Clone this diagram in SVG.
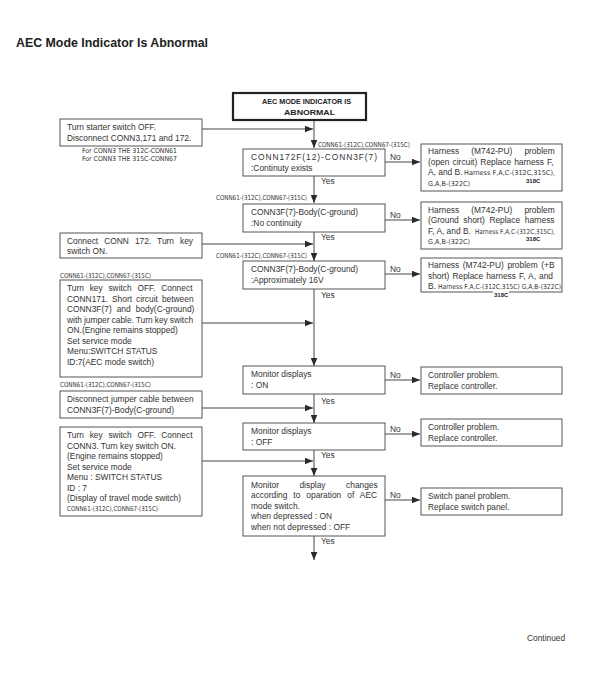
<svg xmlns="http://www.w3.org/2000/svg" width="591" height="675" viewBox="0 0 591 675">
<defs>
<marker id="ah" markerWidth="9" markerHeight="7" refX="8.5" refY="3.5" orient="auto" markerUnits="userSpaceOnUse">
<path d="M0,0 L8.5,3.5 L0,7 Z" fill="#2a2a2a"/>
</marker>
<style>
.bx{fill:#fff;stroke:#555;stroke-width:1}
.tb{fill:#fff;stroke:#222;stroke-width:2.2}
.t{font-family:"Liberation Sans",Arial,sans-serif;font-size:8.4px;fill:#333}
.tt{font-family:"Liberation Sans",Arial,sans-serif;font-size:7.8px;font-weight:bold;fill:#222}
.n{font-family:"Liberation Sans Narrow","DejaVu Sans Condensed","Liberation Sans",sans-serif;font-size:6.8px;fill:#333}
.b{font-family:"Liberation Sans",Arial,sans-serif;font-size:6px;font-weight:bold;fill:#222}
.c{fill:none;stroke:#444;stroke-width:1}
</style>
</defs>
<rect width="591" height="675" fill="#fff"/>
<text x="16" y="47" font-family="Liberation Sans,Arial,sans-serif" font-size="12" font-weight="bold" fill="#222" textLength="192" lengthAdjust="spacingAndGlyphs">AEC Mode Indicator Is Abnormal</text>

<g id="connectors">
<line class="c" x1="314" y1="121" x2="314" y2="148" marker-end="url(#ah)"/>
<line class="c" x1="314" y1="176" x2="314" y2="203" marker-end="url(#ah)"/>
<line class="c" x1="314" y1="232" x2="314" y2="261" marker-end="url(#ah)"/>
<line class="c" x1="314" y1="289" x2="314" y2="366" marker-end="url(#ah)"/>
<line class="c" x1="314" y1="394" x2="314" y2="423" marker-end="url(#ah)"/>
<line class="c" x1="314" y1="450" x2="314" y2="476" marker-end="url(#ah)"/>
<line class="c" x1="314" y1="536" x2="314" y2="560" marker-end="url(#ah)"/>
<line class="c" x1="202" y1="129" x2="313" y2="129" marker-end="url(#ah)"/>
<line class="c" x1="202" y1="244" x2="313" y2="244" marker-end="url(#ah)"/>
<line class="c" x1="202" y1="323" x2="313" y2="323" marker-end="url(#ah)"/>
<line class="c" x1="202" y1="408" x2="313" y2="408" marker-end="url(#ah)"/>
<line class="c" x1="202" y1="461" x2="313" y2="461" marker-end="url(#ah)"/>
<line class="c" x1="385" y1="162" x2="420" y2="162" marker-end="url(#ah)"/>
<line class="c" x1="385" y1="220" x2="420" y2="220" marker-end="url(#ah)"/>
<line class="c" x1="385" y1="274" x2="420" y2="274" marker-end="url(#ah)"/>
<line class="c" x1="385" y1="380" x2="420" y2="380" marker-end="url(#ah)"/>
<line class="c" x1="385" y1="434" x2="420" y2="434" marker-end="url(#ah)"/>
<line class="c" x1="385" y1="500" x2="420" y2="500" marker-end="url(#ah)"/>
<text class="n" x="318" y="147" textLength="92" lengthAdjust="spacingAndGlyphs">CONN61-(312C),CONN67-(315C)</text>
<text class="n" x="216" y="200" textLength="91" lengthAdjust="spacingAndGlyphs">CONN61-(312C),CONN67-(315C)</text>
<text class="n" x="216" y="258" textLength="91" lengthAdjust="spacingAndGlyphs">CONN61-(312C),CONN67-(315C)</text>
<text class="t" x="390" y="160">No</text>
<text class="t" x="390" y="218">No</text>
<text class="t" x="390" y="272">No</text>
<text class="t" x="390" y="378">No</text>
<text class="t" x="390" y="432">No</text>
<text class="t" x="390" y="498">No</text>
<text class="t" x="321" y="184">Yes</text>
<text class="t" x="321" y="240">Yes</text>
<text class="t" x="321" y="298">Yes</text>
<text class="t" x="321" y="404">Yes</text>
<text class="t" x="321" y="458">Yes</text>
<text class="t" x="321" y="544">Yes</text>
</g>

<g id="start">
<rect class="tb" x="233" y="93" width="133" height="27"/>
<text class="tt" x="262" y="104" textLength="89" lengthAdjust="spacingAndGlyphs">AEC MODE INDICATOR  IS</text>
<text class="tt" x="284" y="115" textLength="51" lengthAdjust="spacingAndGlyphs">ABNORMAL</text>
</g>

<g id="step1">
<rect class="bx" x="60" y="119" width="142" height="27"/>
<text class="t" x="67" y="130">Turn starter switch OFF.</text>
<text class="t" x="67" y="141">Disconnect CONN3,171 and 172.</text>
<text class="n" x="82" y="153" textLength="95" lengthAdjust="spacingAndGlyphs">For CONN3 THE 312C-CONN61</text>
<text class="n" x="82" y="161" textLength="95" lengthAdjust="spacingAndGlyphs">For CONN3 THE 315C-CONN67</text>
</g>

<g id="checkA">
<rect class="bx" x="243" y="149" width="142" height="27"/>
<text class="t" x="251" y="160" font-size="8.6" textLength="126" lengthAdjust="spacing">CONN172F(12)-CONN3F(7)</text>
<text class="t" x="251" y="171">:Continuty exists</text>
</g>

<g id="resA">
<rect class="bx" x="421" y="144" width="141" height="47"/>
<text class="t" x="428" y="154" word-spacing="9.8">Harness (M742-PU) problem</text>
<text class="t" x="428" y="164.5" word-spacing="0.8">(open circuit) Replace harness F,</text>
<text class="t" x="428" y="175">A, and B.</text>
<text class="n" x="464" y="175" textLength="91" lengthAdjust="spacingAndGlyphs">Harness F,A,C-(312C,315C),</text>
<text class="n" x="428" y="185.5" textLength="42" lengthAdjust="spacingAndGlyphs">G,A,B-(322C)</text>
<text class="b" x="526" y="183">318C</text>
</g>

<g id="checkB">
<rect class="bx" x="243" y="204" width="142" height="28"/>
<text class="t" x="251" y="215">CONN3F(7)-Body(C-ground)</text>
<text class="t" x="251" y="225.5">:No continuity</text>
</g>

<g id="resB">
<rect class="bx" x="421" y="202" width="141" height="47"/>
<text class="t" x="428" y="212.5" word-spacing="9.8">Harness (M742-PU) problem</text>
<text class="t" x="428" y="223" word-spacing="2.3">(Ground short) Replace harness</text>
<text class="t" x="428" y="233.5">F, A, and B.</text>
<text class="n" x="475" y="233.5" textLength="80" lengthAdjust="spacingAndGlyphs">Harness F,A,C-(312C,315C),</text>
<text class="n" x="428" y="244" textLength="42" lengthAdjust="spacingAndGlyphs">G,A,B-(322C)</text>
<text class="b" x="526" y="241">318C</text>
</g>

<g id="step2">
<rect class="bx" x="60" y="233" width="142" height="25"/>
<text class="t" x="67" y="243.5" word-spacing="3.7">Connect CONN 172. Turn key</text>
<text class="t" x="67" y="254">switch ON.</text>
</g>

<g id="checkC">
<rect class="bx" x="243" y="261" width="142" height="28"/>
<text class="t" x="251" y="272">CONN3F(7)-Body(C-ground)</text>
<text class="t" x="251" y="282.5">:Approximately 16V</text>
</g>

<g id="resC">
<rect class="bx" x="421" y="258" width="141" height="34"/>
<text class="t" x="428" y="268" word-spacing="1.3">Harness (M742-PU) problem (+B</text>
<text class="t" x="428" y="278.5" word-spacing="0.7">short) Replace harness F, A, and</text>
<text class="t" x="428" y="289">B.</text>
<text class="n" x="438" y="289" textLength="123" lengthAdjust="spacingAndGlyphs">Harness F,A,C-(312C,315C) G,A,B-(322C)</text>
<rect x="493" y="291" width="16" height="6" fill="#fff"/>
<text class="b" x="494" y="296.5">318C</text>
</g>

<g id="step3">
<text class="n" x="60" y="278" textLength="91" lengthAdjust="spacingAndGlyphs">CONN61-(312C),CONN67-(315C)</text>
<rect class="bx" x="60" y="280" width="142" height="97"/>
<text class="t" x="67" y="291" word-spacing="3.4">Turn key switch OFF. Connect</text>
<text class="t" x="67" y="301.5" word-spacing="1.7">CONN171. Short circuit between</text>
<text class="t" x="67" y="312" word-spacing="2.7">CONN3F(7) and body(C-ground)</text>
<text class="t" x="67" y="322.5" word-spacing="-0.3">with jumper cable. Turn key switch</text>
<text class="t" x="67" y="333">ON.(Engine remains  stopped)</text>
<text class="t" x="67" y="343.5">Set service mode</text>
<text class="t" x="67" y="354">Menu:SWITCH STATUS</text>
<text class="t" x="67" y="364.5">ID:7(AEC mode switch)</text>
</g>

<g id="checkD">
<rect class="bx" x="243" y="366" width="142" height="28"/>
<text class="t" x="251" y="377">Monitor displays</text>
<text class="t" x="251" y="387.5">: ON</text>
</g>

<g id="resD">
<rect class="bx" x="421" y="367" width="141" height="27"/>
<text class="t" x="428" y="378">Controller problem.</text>
<text class="t" x="428" y="388.5">Replace controller.</text>
</g>

<g id="step4">
<text class="n" x="60" y="387" textLength="91" lengthAdjust="spacingAndGlyphs">CONN61-(312C),CONN67-(315C)</text>
<rect class="bx" x="60" y="391" width="142" height="27"/>
<text class="t" x="67" y="402" word-spacing="0.3">Disconnect jumper cable between</text>
<text class="t" x="67" y="412.5">CONN3F(7)-Body(C-ground)</text>
</g>

<g id="checkE">
<rect class="bx" x="243" y="423" width="142" height="27"/>
<text class="t" x="251" y="434">Monitor displays</text>
<text class="t" x="251" y="444.5">: OFF</text>
</g>

<g id="resE">
<rect class="bx" x="421" y="419" width="141" height="27"/>
<text class="t" x="428" y="430">Controller problem.</text>
<text class="t" x="428" y="440.5">Replace controller.</text>
</g>

<g id="step5">
<rect class="bx" x="60" y="427" width="142" height="89"/>
<text class="t" x="67" y="438" word-spacing="3.4">Turn key switch OFF. Connect</text>
<text class="t" x="67" y="448.5">CONN3. Turn key switch ON.</text>
<text class="t" x="67" y="459">(Engine remains stopped)</text>
<text class="t" x="67" y="469.5">Set service mode</text>
<text class="t" x="67" y="480">Menu : SWITCH STATUS</text>
<text class="t" x="67" y="490.5">ID : 7</text>
<text class="t" x="67" y="501">(Display of travel mode switch)</text>
<text class="n" x="67" y="511" textLength="91" lengthAdjust="spacingAndGlyphs">CONN61-(312C),CONN67-(315C)</text>
</g>

<g id="checkF">
<rect class="bx" x="243" y="476" width="142" height="60"/>
<text class="t" x="251" y="487.5" word-spacing="18.2">Monitor display changes</text>
<text class="t" x="251" y="498" word-spacing="3.7">according to oparation of AEC</text>
<text class="t" x="251" y="508.5">mode switch.</text>
<text class="t" x="251" y="519">when depressed : ON</text>
<text class="t" x="251" y="529.5">when not depressed : OFF</text>
</g>

<g id="resF">
<rect class="bx" x="421" y="488" width="141" height="27"/>
<text class="t" x="428" y="499">Switch panel problem.</text>
<text class="t" x="428" y="509.5">Replace switch panel.</text>
</g>

<text class="t" x="527" y="641">Continued</text>
</svg>
